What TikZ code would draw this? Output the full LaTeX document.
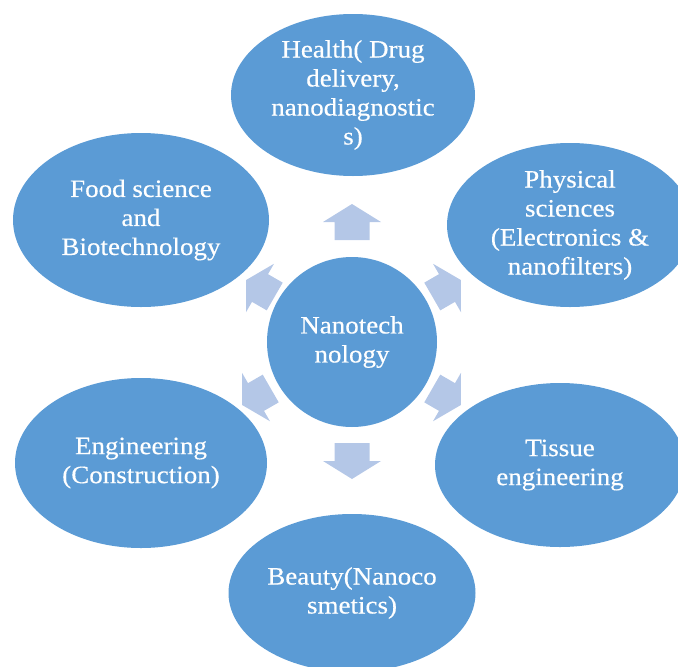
\documentclass[tikz,border=0pt]{standalone}
\usepackage{fontspec}
\setmainfont[FakeStretch=1.08,FakeBold=0.4]{Liberation Serif}
\usetikzlibrary{shapes.geometric}
\definecolor{bubbleblue}{HTML}{5B9BD5}
\definecolor{arrowblue}{HTML}{B4C7E7}
\begin{document}
\begin{tikzpicture}[x=1pt,y=-1pt,
  bubble/.style={ellipse, fill=bubbleblue, text=white, inner sep=0pt, align=center,
    font=\fontsize{25}{29}\selectfont},
  blockarrow/.style={fill=arrowblue}]
\useasboundingbox (0,0) rectangle (678,667);
\clip (0,0) rectangle (678,667);
% outer bubbles
\node[bubble, minimum width=244pt, minimum height=162pt] (health) at (353,95)
  {Health( Drug\\delivery,\\nanodiagnostic\\s)};
\node[bubble, minimum width=246pt, minimum height=164pt] (phys) at (570,225)
  {Physical\\sciences\\(Electronics \&\\nanofilters)};
\node[bubble, minimum width=250pt, minimum height=164pt] (tissue) at (560,465)
  {Tissue\\engineering};
\node[bubble, minimum width=247pt, minimum height=158pt] (beauty) at (352,593)
  {Beauty(Nanoco\\smetics)};
\node[bubble, minimum width=252pt, minimum height=170pt] (engg) at (141,463)
  {Engineering\\(Construction)};
\node[bubble, minimum width=256pt, minimum height=174pt] (food) at (141,220)
  {Food science\\and\\Biotechnology};
% centre
\node[bubble, circle, minimum size=170pt] (nano) at (352,342) {Nanotech\\nology};
% arrows
\coordinate (aU) at (352,222);
\coordinate (aD) at (352,461);
\coordinate (aUL) at (260,288);
\coordinate (aUR) at (447,288);
\coordinate (aLL) at (256,397);
\coordinate (aLR) at (447,397);
\foreach \c/\ang in {aU/90, aD/270}{
  \fill[blockarrow, shift={(\c)}, rotate=\ang]
    (-18,-17.5) -- (0,-17.5) -- (0,-29) -- (18,0) -- (0,29) -- (0,17.5) -- (-18,17.5) -- cycle;
}
\foreach \c/\ang in {aUL/150, aUR/30, aLL/210, aLR/330}{
  \fill[blockarrow, shift={(\c)}, rotate=\ang]
    (-17,-16) -- (0,-16) -- (0,-28) -- (16,0) -- (0,28) -- (0,16) -- (-17,16) -- cycle;
}
\end{tikzpicture}
\end{document}
